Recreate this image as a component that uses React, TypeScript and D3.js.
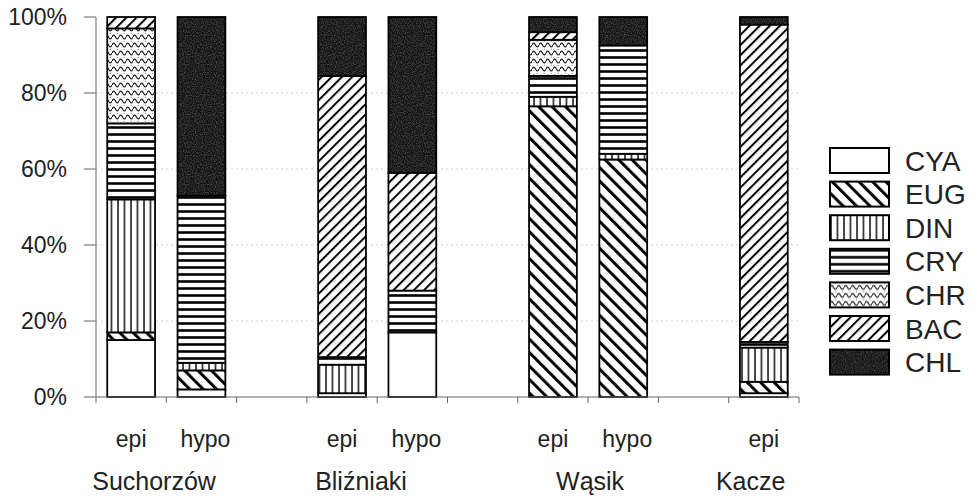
import React from "react";
import * as d3 from "d3";

// slots on the x axis (gaps keep the empty columns between lakes)
const slots = [
  "Suchorzów|epi",
  "Suchorzów|hypo",
  "gap1",
  "Bliźniaki|epi",
  "Bliźniaki|hypo",
  "gap2",
  "Wąsik|epi",
  "Wąsik|hypo",
  "gap3",
  "Kacze|epi",
];
const barKeys = slots.filter((s) => !s.startsWith("gap"));
const lakes = ["Suchorzów", "Bliźniaki", "Wąsik", "Kacze"];
const groups = ["CYA", "EUG", "DIN", "CRY", "CHR", "BAC", "CHL"];

// percentage share per bar, in barKeys order
const cya = [15, 2, 1, 17, 0, 0, 1];
const eug = [2, 5, 0, 0, 76.5, 62.5, 3];
const din = [35, 2, 7.5, 0, 2.5, 1.5, 9];
const cry = [20, 44, 2, 11, 5.5, 28.5, 1.5];
const chr = [25, 0, 0, 0, 9.5, 0, 0];
const bac = [3, 0, 74, 31, 2, 0, 83.5];
const chl = [0, 47, 15.5, 41, 4, 7.5, 2];

const yTicks = [0, 20, 40, 60, 80, 100];

const W = 974;
const H = 498;
const margin = { left: 96, right: 175, top: 17, bottom: 101 };
const font = "'Liberation Sans', Arial, sans-serif";
const labelDx = [-15, -3, 27, -24]; // lake names are not centred on their groups

const series = [cya, eug, din, cry, chr, bac, chl];
const rows = barKeys.map((k, i) => {
  const r: any = { key: k };
  groups.forEach((g, j) => (r[g] = series[j][i]));
  return r;
});

const App: React.FC = () => {
  const x = d3
    .scaleBand<string>()
    .domain(slots)
    .range([margin.left, W - margin.right])
    .paddingInner(0.32)
    .paddingOuter(0.16);
  const y = d3
    .scaleLinear()
    .domain([0, 100])
    .range([H - margin.bottom, margin.top]);

  const stacked = d3.stack<any>().keys(groups)(rows);
  const step = x.step();
  const x0 = margin.left;
  const x1 = W - margin.right;
  const bottom = y(0);

  const fillOf = (g: string) => (g === "CYA" ? "#fff" : `url(#pat-${g})`);

  return (
    <svg
      width={W}
      height={H}
      style={{ position: "absolute", left: 0, top: 0, background: "#fff" }}
    >
      <defs>
        <pattern id="pat-EUG" patternUnits="userSpaceOnUse" width={9.5} height={9.5} patternTransform="rotate(-45)">
          <rect width={9.5} height={9.5} fill="#fff" />
          <line x1={1.5} y1={0} x2={1.5} y2={9.5} stroke="#000" strokeWidth={3} />
        </pattern>
        <pattern id="pat-BAC" patternUnits="userSpaceOnUse" width={7.2} height={7.2} patternTransform="rotate(45)">
          <rect width={7.2} height={7.2} fill="#fff" />
          <line x1={1} y1={0} x2={1} y2={7.2} stroke="#000" strokeWidth={2} />
        </pattern>
        <pattern id="pat-DIN" patternUnits="userSpaceOnUse" width={6.5} height={10}>
          <rect width={6.5} height={10} fill="#fff" />
          <line x1={1} y1={0} x2={1} y2={10} stroke="#000" strokeWidth={1.4} />
        </pattern>
        <pattern id="pat-CRY" patternUnits="userSpaceOnUse" width={10} height={7}>
          <rect width={10} height={7} fill="#fff" />
          <line x1={0} y1={1.5} x2={10} y2={1.5} stroke="#000" strokeWidth={2.6} />
        </pattern>
        <pattern id="pat-CHR" patternUnits="userSpaceOnUse" width={7} height={8}>
          <rect width={7} height={8} fill="#fff" />
          <path d="M0 5 Q1.75 1.2 3.5 5 T7 5" fill="none" stroke="#222" strokeWidth={1.2} />
          <circle cx={5.2} cy={1.2} r={0.5} fill="#444" />
        </pattern>
        <filter id="grain" x="0" y="0" width="100%" height="100%">
          <feTurbulence type="fractalNoise" baseFrequency="0.9" numOctaves={2} seed={3} />
          <feColorMatrix
            type="matrix"
            values="0 0 0 0 0.18  0 0 0 0 0.18  0 0 0 0 0.18  0 0 0 1.4 -0.55"
          />
          <feComposite in2="SourceGraphic" operator="in" />
        </filter>
        <pattern id="pat-CHL" patternUnits="userSpaceOnUse" width={60} height={60}>
          <rect width={60} height={60} fill="#121212" />
          <rect width={60} height={60} fill="#fff" filter="url(#grain)" />
        </pattern>
      </defs>

      {/* faint grid */}
      {yTicks.slice(1, -1).map((t) => (
        <line
          key={`g${t}`}
          x1={x0}
          x2={x1}
          y1={y(t)}
          y2={y(t)}
          stroke="#d4d4d4"
          strokeDasharray="2 3"
        />
      ))}

      {/* stacked bars */}
      {stacked.map((layer) => (
        <g key={layer.key}>
          {layer.map((d, i) =>
            d[1] - d[0] > 0 ? (
              <rect
                key={i}
                x={x(barKeys[i])!}
                y={y(d[1])}
                width={x.bandwidth()}
                height={y(d[0]) - y(d[1])}
                fill={fillOf(layer.key)}
                stroke="#000"
                strokeWidth={1.8}
              />
            ) : null
          )}
        </g>
      ))}

      {/* y axis */}
      <line x1={x0} x2={x0} y1={y(100)} y2={bottom} stroke="#666" />
      {yTicks.map((t) => (
        <g key={`y${t}`}>
          <line x1={x0 - 12} x2={x0} y1={y(t)} y2={y(t)} stroke="#666" />
          <text
            x={x0 - 29}
            y={y(t)}
            dy="0.36em"
            textAnchor="end"
            fontFamily={font}
            fontSize={23}
            fill="#222"
          >
            {t}%
          </text>
        </g>
      ))}

      {/* x axis */}
      <line x1={x0} x2={x1} y1={bottom} y2={bottom} stroke="#666" />
      {d3.range(slots.length + 1).map((i) => (
        <line
          key={`xt${i}`}
          x1={x0 + i * step}
          x2={x0 + i * step}
          y1={bottom}
          y2={bottom + 6}
          stroke="#666"
        />
      ))}
      {barKeys.map((k) => (
        <text
          key={`l${k}`}
          x={x(k)! + x.bandwidth() / 2 + (k.endsWith("hypo") ? 4 : 0)}
          y={447}
          textAnchor="middle"
          fontFamily={font}
          fontSize={23}
          fill="#222"
        >
          {k.split("|")[1]}
        </text>
      ))}
      {lakes.map((lake, i) => (
        <text
          key={lake}
          x={x(`${lake}|epi`)! + labelDx[i]}
          y={490}
          fontFamily={font}
          fontSize={25}
          fill="#222"
        >
          {lake}
        </text>
      ))}

      {/* legend */}
      {groups.map((g, i) => (
        <g key={`lg${g}`} transform={`translate(830, ${148 + i * 33.6})`}>
          <rect width={59} height={25} fill={fillOf(g)} stroke="#000" strokeWidth={2} />
          <text x={75} y={12.5} dy="0.36em" fontFamily={font} fontSize={28} fill="#222">
            {g}
          </text>
        </g>
      ))}
    </svg>
  );
};

export default App;
